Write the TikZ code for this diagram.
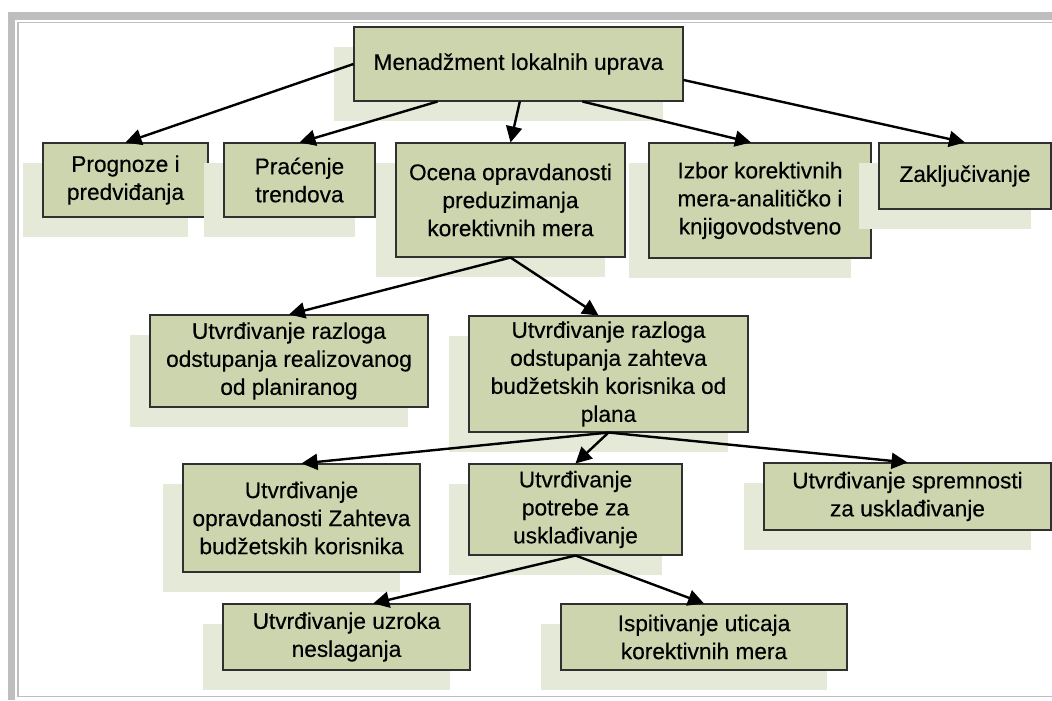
\documentclass[tikz,border=0pt]{standalone}
\usepackage{fontspec}
\setmainfont{Liberation Sans}[FakeBold=0.35]
\usetikzlibrary{arrows.meta}
\definecolor{boxfill}{HTML}{CDD5AF}
\definecolor{boxshade}{HTML}{E5E9D8}
\definecolor{framegray}{HTML}{BEBEBE}
\definecolor{boxline}{HTML}{303030}
% name, left, top, right, bottom, text  (pixel-like units, y grows downward)
\newcommand\orgbox[6]{%
  \fill[boxshade] ({#2-20},{#3+20}) rectangle ({#4-20},{#5+20});
  \pgfmathsetmacro\orgW{(#4-#2)*0.75}%
  \pgfmathsetmacro\orgH{(#5-#3)*0.75}%
  \node[orgnode, minimum width=\orgW pt, minimum height=\orgH pt]
    (#1) at ({(#2+#4)/2},{(#3+#5)/2}) {#6};
}
\tikzset{
  orgnode/.style={draw=boxline, fill=boxfill, line width=0.8pt, inner sep=0pt,
    align=center, font=\fontsize{17}{21}\selectfont},
  conn/.style={line width=1.8pt, -{Triangle[length=12pt,width=12pt]}}
}
\begin{document}
\begin{tikzpicture}[x=0.75pt, y=-0.75pt]
\useasboundingbox (0,0) rectangle (1052,700);
% outer frame
\fill[framegray] (8,12) rectangle (1052,20);
\fill[framegray] (8,12) rectangle (15,700);
\draw[framegray, line width=1.2pt] (18,697) -- (18,22.5) -- (1052,22.5);
\draw[framegray, line width=1.2pt] (18,696.3) -- (1052,696.3);

% boxes
\orgbox{root}{354}{27}{683}{101}{Menadžment lokalnih uprava}
\orgbox{prog}{43}{143}{208}{217}{Prognoze i\\predviđanja}
\orgbox{prac}{224}{143}{375}{217}{Praćenje\\trendova}
\orgbox{ocena}{396}{143}{625}{257}{Ocena opravdanosti\\preduzimanja\\korektivnih mera}
\orgbox{izbor}{649}{143}{871}{258}{Izbor korektivnih\\mera-analitičko i\\knjigovodstveno}
\orgbox{zak}{879}{143}{1051}{209}{Zaključivanje}
\orgbox{real}{150}{315}{428}{407}{Utvrđivanje razloga\\odstupanja realizovanog\\od planiranog}
\orgbox{zaht}{469}{316}{748}{432}{Utvrđivanje razloga\\odstupanja zahteva\\budžetskih korisnika od\\plana}
\orgbox{oprav}{183}{464}{420}{572}{Utvrđivanje\\opravdanosti Zahteva\\budžetskih korisnika}
\orgbox{potr}{469}{464}{682}{555}{Utvrđivanje\\potrebe za\\usklađivanje}
\orgbox{sprem}{764}{463}{1051}{530}{Utvrđivanje spremnosti\\za usklađivanje}
\orgbox{uzrok}{223}{604}{470}{670}{Utvrđivanje uzroka\\neslaganja}
\orgbox{isp}{561}{604}{847}{670}{Ispitivanje uticaja\\korektivnih mera}

% connectors
\draw[conn] (root.west) -- (prog.north);
\draw[conn] ([xshift=63pt]root.south west) -- (prac.north);
\draw[conn] ([xshift=1pt]root.south) -- (ocena.north);
\draw[conn] ([xshift=171.75pt]root.south west) -- ([xshift=-6.75pt]izbor.north);
\draw[conn] ([yshift=-12pt]root.east) -- (zak.north);
\draw[conn] (ocena.south) -- (real.north);
\draw[conn] (ocena.south) -- ([xshift=-7.5pt]zaht.north);
\draw[conn] (zaht.south) -- (oprav.north);
\draw[conn] (zaht.south) -- (potr.north);
\draw[conn] (zaht.south) -- (sprem.north);
\draw[conn] (potr.south) -- ([xshift=20pt]uzrok.north);
\draw[conn] (potr.south) -- (isp.north);
\end{tikzpicture}
\end{document}
